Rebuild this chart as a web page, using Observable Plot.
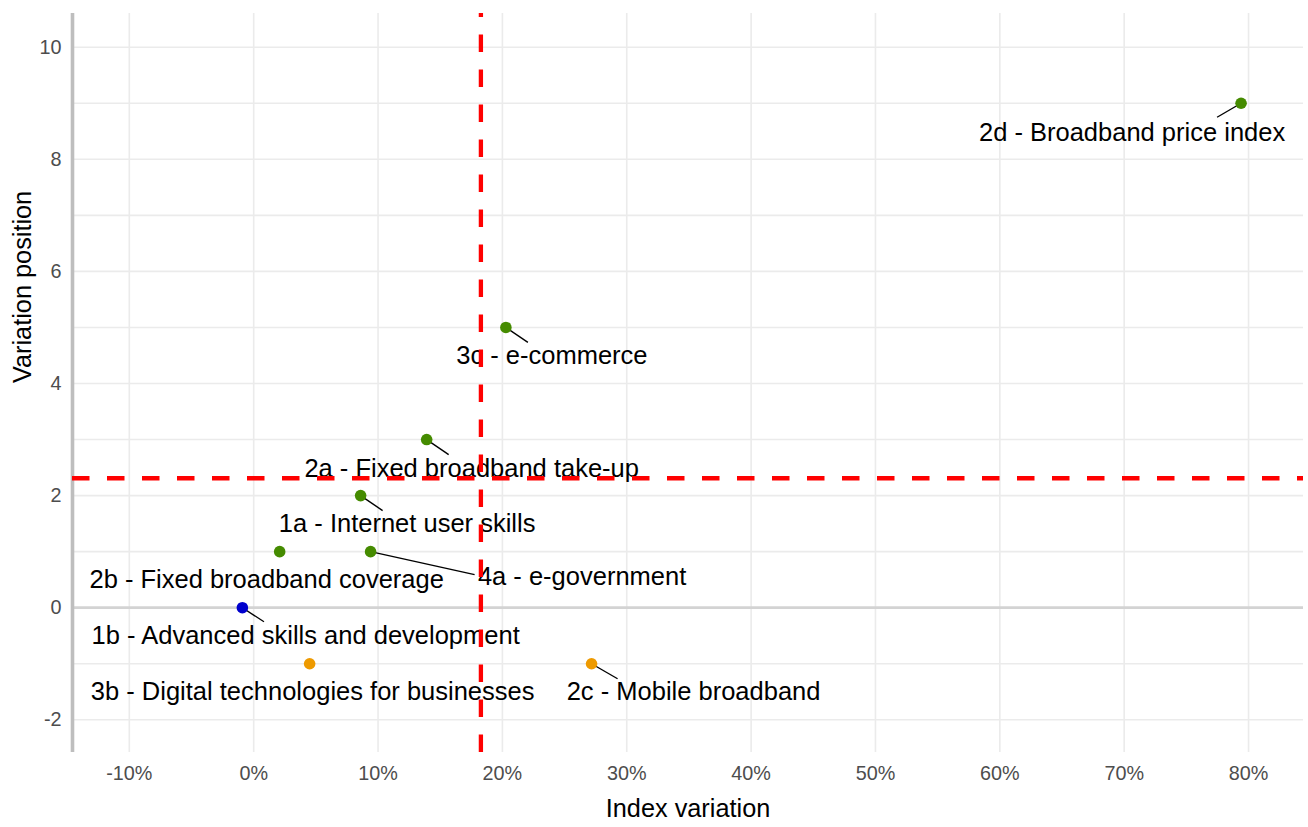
<!DOCTYPE html>
<html>
<head>
<meta charset="utf-8">
<script src="https://cdn.jsdelivr.net/npm/d3@7"></script>
<script src="https://cdn.jsdelivr.net/npm/@observablehq/plot@0.6"></script>
<style>
  html, body { margin: 0; padding: 0; background: #ffffff; }
  svg { display: block; }
</style>
</head>
<body>
<script>
// ---- data ----
const labels = [
  "2d - Broadband price index",
  "3c - e-commerce",
  "2a - Fixed broadband take-up",
  "1a - Internet user skills",
  "2b - Fixed broadband coverage",
  "4a - e-government",
  "1b - Advanced skills and development",
  "3b - Digital technologies for businesses",
  "2c - Mobile broadband"
];
const indexVariation = [0.794, 0.2028, 0.1391, 0.086, 0.0209, 0.094, -0.0091, 0.045, 0.2717];
const positionVariation = [9, 5, 3, 2, 1, 1, 0, -1, -1];
const positionReference = 2.31;          // horizontal dashed reference line
const xTickValues = [-0.1, 0, 0.1, 0.2, 0.3, 0.4, 0.5, 0.6, 0.7, 0.8];
const yTickValues = [-2, 0, 2, 4, 6, 8, 10];
const yGridValues = [-2, -1, 0, 1, 2, 3, 4, 5, 6, 7, 8, 9, 10];
const trendNames = ["up", "same", "down"];

// ---- layout (repel-like label placement, in pixels relative to the point) ----
const labelNudge = [
  {dx: -109, dy: 29.5, sx: -24, sy: 14},
  {dx: 46, dy: 28, sx: 22, sy: 15},
  {dx: 45, dy: 29, sx: 22, sy: 15},
  {dx: 46.5, dy: 28, sx: 22, sy: 15},
  {dx: -13, dy: 28, sx: null, sy: null},
  {dx: 211.5, dy: 25, sx: 104, sy: 23},
  {dx: 63.3, dy: 28, sx: 21.6, sy: 14},
  {dx: 3, dy: 28, sx: null, sy: null},
  {dx: 102, dy: 28, sx: 26, sy: 15}
];

const W = 1308, H = 827, mL = 72, mR = 5, mT = 13, mB = 75;
const xDomain = [-0.1457, 0.8442];
const yDomain = [-2.583, 10.601];
const kx = (W - mL - mR) / (xDomain[1] - xDomain[0]);
const ky = (H - mT - mB) / (yDomain[1] - yDomain[0]);

const trendColors = ["#458B00", "#0000CD", "#EE9A00"];

const data = labels.map((label, i) => {
  const x = indexVariation[i], y = positionVariation[i];
  const n = labelNudge[i];
  return {
    label, x, y,
    trend: y > 0 ? "up" : y < 0 ? "down" : "same",
    lx: x + n.dx / kx,
    ly: y - n.dy / ky,
    sx: n.sx == null ? null : x + n.sx / kx,
    sy: n.sy == null ? null : y - n.sy / ky
  };
});
const segs = data.filter(d => d.sx != null);
const meanX = d3.mean(indexVariation);

const fmtPct = d => `${Math.round(d * 100)}%`;

const chart = Plot.plot({
  width: W, height: H,
  marginLeft: mL, marginRight: mR, marginTop: mT, marginBottom: mB,
  style: {
    fontFamily: "'Liberation Sans', Arial, sans-serif",
    fontSize: "19.8px",
    color: "#4d4d4d",
    background: "#ffffff",
    overflow: "visible"
  },
  x: {domain: xDomain, ticks: xTickValues, tickFormat: fmtPct, tickSize: 0, tickPadding: 13, label: null},
  y: {domain: yDomain, ticks: yTickValues, tickFormat: d => String(d), tickSize: 0, tickPadding: 11, label: null},
  color: {domain: trendNames, range: trendColors},
  marks: [
    Plot.ruleX(xTickValues, {stroke: "#ebebeb", strokeWidth: 1.6}),
    Plot.ruleY(yGridValues, {stroke: "#ebebeb", strokeWidth: 1.6}),
    Plot.ruleY([0], {stroke: "#d3d3d3", strokeWidth: 2.8}),
    Plot.ruleX([xDomain[0]], {stroke: "#bebebe", strokeWidth: 3.6}),
    Plot.link(segs, {x1: "x", y1: "y", x2: "sx", y2: "sy", stroke: "#000000", strokeWidth: 1.4}),
    Plot.dot(data, {x: "x", y: "y", fill: "trend", r: 5.8}),
    Plot.text(data, {x: "lx", y: "ly", text: "label", fontSize: 25.5, fill: "#000000", textAnchor: "middle", lineAnchor: "middle"}),
    Plot.ruleX([meanX], {y1: () => yDomain[0], y2: () => yDomain[1], stroke: "#ff0000", strokeWidth: 4.3, strokeDasharray: "17.5,17.5"}),
    Plot.ruleY([positionReference], {stroke: "#ff0000", strokeWidth: 4.3, strokeDasharray: "17.5,17.5"}),
    Plot.text(["Index variation"], {frameAnchor: "bottom", lineAnchor: "middle", dy: 56, text: d => d, fontSize: 25.3, fill: "#000000"}),
    Plot.text(["Variation position"], {frameAnchor: "left", lineAnchor: "middle", dx: -50, rotate: -90, text: d => d, fontSize: 25.3, fill: "#000000"})
  ]
});
document.body.appendChild(chart);
</script>
</body>
</html>
